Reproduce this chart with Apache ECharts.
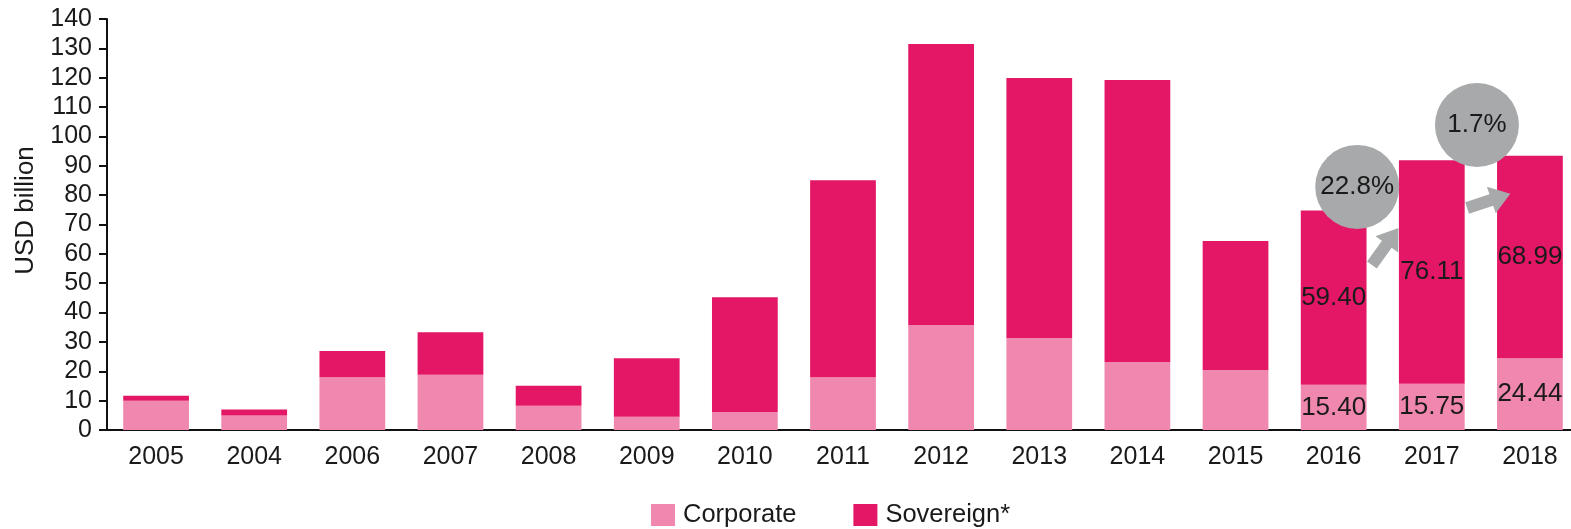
<!DOCTYPE html>
<html>
<head>
<meta charset="utf-8">
<script src="https://cdn.jsdelivr.net/npm/echarts@6/dist/echarts.min.js"></script>
<style>
  html, body { margin: 0; padding: 0; background: #fff; }
  #chart { width: 1571px; height: 529px; }
</style>
</head>
<body>
<div id="chart"></div>
<script>
// --- Données ---
const years = ['2005', '2004', '2006', '2007', '2008', '2009', '2010', '2011', '2012', '2013', '2014', '2015', '2016', '2017', '2018'];
const corporate = [10.0, 4.9, 18.0, 18.8, 8.3, 4.5, 6.1, 18.0, 35.8, 31.3, 23.2, 20.4, 15.40, 15.75, 24.44];
const sovereign = [1.7, 2.1, 8.9, 14.5, 6.8, 19.9, 39.1, 67.1, 95.7, 88.6, 96.0, 44.0, 59.40, 76.11, 68.99];
const labelledYears = ['2016', '2017', '2018'];

// bulles de croissance : [index de catégorie (fractionnaire), valeur]
const growthText = ['22.8%', '1.7%'];
const growthAt = [[12.24, 82.8], [13.46, 103.9]];
// flèches : [départ, arrivée] en coordonnées de données
const arrowsAt = [
    [[12.39, 56.2], [12.66, 68.8]],
    [[13.36, 75.6], [13.80, 80.5]]
];

const FONT = '"Liberation Sans", Arial, sans-serif';
const TXT = '#1a1a1a';
const C_CORP = '#f087ae';
const C_SOV = '#e31766';
const GREY = '#a7a9aa';

const chart = echarts.init(document.getElementById('chart'));

function labelFor() {
    return {
        show: true,
        position: 'inside',
        fontSize: 26,
        fontFamily: FONT,
        color: TXT,
        formatter: p => labelledYears.includes(p.name) ? p.value.toFixed(2) : ''
    };
}

chart.setOption({
    animation: false,
    textStyle: { fontFamily: FONT },
    grid: { left: 107, top: 19, width: 1472, height: 411, outerBoundsMode: 'none', containLabel: false },
    legend: {
        left: 646,
        top: 497,
        icon: 'rect',
        itemWidth: 24,
        itemHeight: 22,
        itemGap: 57,
        textStyle: { fontSize: 25.5, color: TXT, fontFamily: FONT, padding: [0, 0, 0, 3] },
        data: ['Corporate', 'Sovereign*']
    },
    xAxis: {
        type: 'category',
        data: years,
        axisLine: { lineStyle: { color: '#111', width: 2 } },
        axisTick: { length: 8, lineStyle: { color: '#111', width: 2 } },
        axisLabel: { fontSize: 25, color: TXT, margin: 15 }
    },
    yAxis: {
        type: 'value',
        min: 0,
        max: 140,
        interval: 10,
        name: 'USD billion',
        nameLocation: 'middle',
        nameRotate: 90,
        nameGap: 68,
        nameTextStyle: { fontSize: 26, color: TXT, padding: [0, 0, 0, 28] },
        splitLine: { show: false },
        axisLine: { show: true, lineStyle: { color: '#111', width: 2 } },
        axisTick: { show: true, length: 8, lineStyle: { color: '#111', width: 2 } },
        axisLabel: { fontSize: 25, color: TXT, margin: 15 }
    },
    series: [
        {
            name: 'Corporate',
            type: 'bar',
            stack: 'total',
            barCategoryGap: '33%',
            itemStyle: { color: C_CORP },
            label: labelFor(),
            data: corporate
        },
        {
            name: 'Sovereign*',
            type: 'bar',
            stack: 'total',
            barCategoryGap: '33%',
            itemStyle: { color: C_SOV },
            label: labelFor(),
            data: sovereign
        }
    ]
});

// convertit [index fractionnaire, valeur] en pixels
function toPx(pt) {
    const i0 = Math.floor(pt[0]);
    const a = chart.convertToPixel({ gridIndex: 0 }, [i0, pt[1]]);
    const b = chart.convertToPixel({ gridIndex: 0 }, [i0 + 1, pt[1]]);
    const f = pt[0] - i0;
    return [a[0] + (b[0] - a[0]) * f, a[1]];
}

function arrowPoints(from, to) {
    const p = toPx(from), q = toPx(to);
    const dx = q[0] - p[0], dy = q[1] - p[1];
    const len = Math.hypot(dx, dy);
    const ux = dx / len, uy = dy / len;
    const nx = -uy, ny = ux;
    const head = 20, hw = 14, sw = 6;
    const bx = q[0] - ux * head, by = q[1] - uy * head;
    return [
        [p[0] + nx * sw, p[1] + ny * sw],
        [bx + nx * sw, by + ny * sw],
        [bx + nx * hw, by + ny * hw],
        [q[0], q[1]],
        [bx - nx * hw, by - ny * hw],
        [bx - nx * sw, by - ny * sw],
        [p[0] - nx * sw, p[1] - ny * sw]
    ];
}

const graphics = [];
arrowsAt.forEach(a => {
    graphics.push({
        type: 'polygon',
        shape: { points: arrowPoints(a[0], a[1]) },
        style: { fill: GREY },
        z: 100
    });
});
growthAt.forEach((g, i) => {
    const c = toPx(g);
    graphics.push({
        type: 'circle',
        shape: { cx: c[0], cy: c[1], r: 42 },
        style: { fill: GREY },
        z: 100
    });
    graphics.push({
        type: 'text',
        x: c[0],
        y: c[1],
        style: {
            text: growthText[i],
            fontSize: 26,
            fontFamily: FONT,
            fill: TXT,
            align: 'center',
            verticalAlign: 'middle'
        },
        z: 101
    });
});

chart.setOption({ graphic: graphics });
</script>
</body>
</html>
